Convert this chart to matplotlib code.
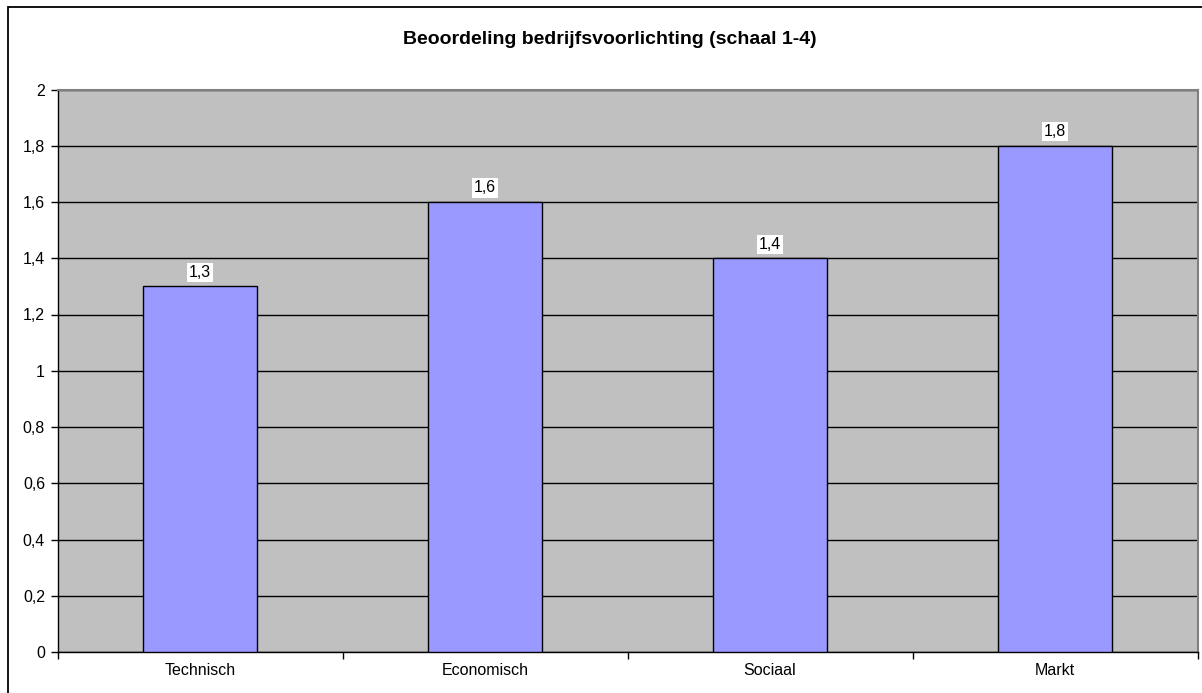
import matplotlib
matplotlib.use("Agg")
import matplotlib.pyplot as plt
from matplotlib.patches import Rectangle
from matplotlib.ticker import FixedLocator, NullFormatter

categories = ["Technisch", "Economisch", "Sociaal", "Markt"]
scores = [1.3, 1.6, 1.4, 1.8]
y_ticks = [0, 0.2, 0.4, 0.6, 0.8, 1.0, 1.2, 1.4, 1.6, 1.8, 2.0]
title = "Beoordeling bedrijfsvoorlichting (schaal 1-4)"

plt.rcParams["font.family"] = ["Liberation Sans", "DejaVu Sans"]

W, H = 1202, 693
fig = plt.figure(figsize=(W / 100, H / 100), dpi=100)
fig.patch.set_facecolor("white")

# outer chart frame (left and top edges visible)
fig.patches.append(Rectangle((7.5 / W, -0.05), 1.2, (H - 6.5) / H + 0.05,
                             transform=fig.transFigure, fill=False,
                             edgecolor="black", linewidth=1.3, zorder=0))

left, right, top, bottom = 57.5, 1197.5, 89.5, 652
ax = fig.add_axes([left / W, 1 - bottom / H, (right - left) / W, (bottom - top) / H])
ax.set_facecolor("#C0C0C0")

x = list(range(len(categories)))
ax.bar(x, scores, width=0.4, color="#9999FF", edgecolor="black", linewidth=1, zorder=3)

for xi, v in zip(x, scores):
    ax.text(xi, v + 0.05, f"{v:.1f}".replace(".", ","), ha="center", va="center",
            fontsize=11.5, color="black", zorder=4,
            bbox=dict(facecolor="white", edgecolor="none", pad=1.5))

ax.set_xlim(-0.5, len(categories) - 0.5)
ax.set_ylim(0, 2)
ax.set_yticks(y_ticks)
ax.set_yticklabels([("%g" % t).replace(".", ",") for t in y_ticks], fontsize=11.5)
ax.yaxis.grid(True, color="black", linewidth=1, zorder=1)
ax.set_axisbelow(True)

ax.set_xticks(x)
ax.set_xticklabels(categories, fontsize=11.5)
ax.xaxis.set_minor_locator(FixedLocator([i + 0.5 for i in range(-1, len(categories))]))
ax.xaxis.set_minor_formatter(NullFormatter())
ax.tick_params(axis="x", which="major", length=0, pad=8)
ax.tick_params(axis="x", which="minor", length=5, width=1, color="black")
ax.tick_params(axis="y", length=5, width=1, color="black", pad=4)

for side in ("top", "right"):
    ax.spines[side].set_color("#808080")
    ax.spines[side].set_linewidth(1.5)
for side in ("left", "bottom"):
    ax.spines[side].set_color("black")
    ax.spines[side].set_linewidth(1)

fig.text(610 / W, 1 - 39 / H, title, ha="center", va="center",
         fontsize=14, fontweight="bold")

fig.savefig("out.png", dpi=100)
